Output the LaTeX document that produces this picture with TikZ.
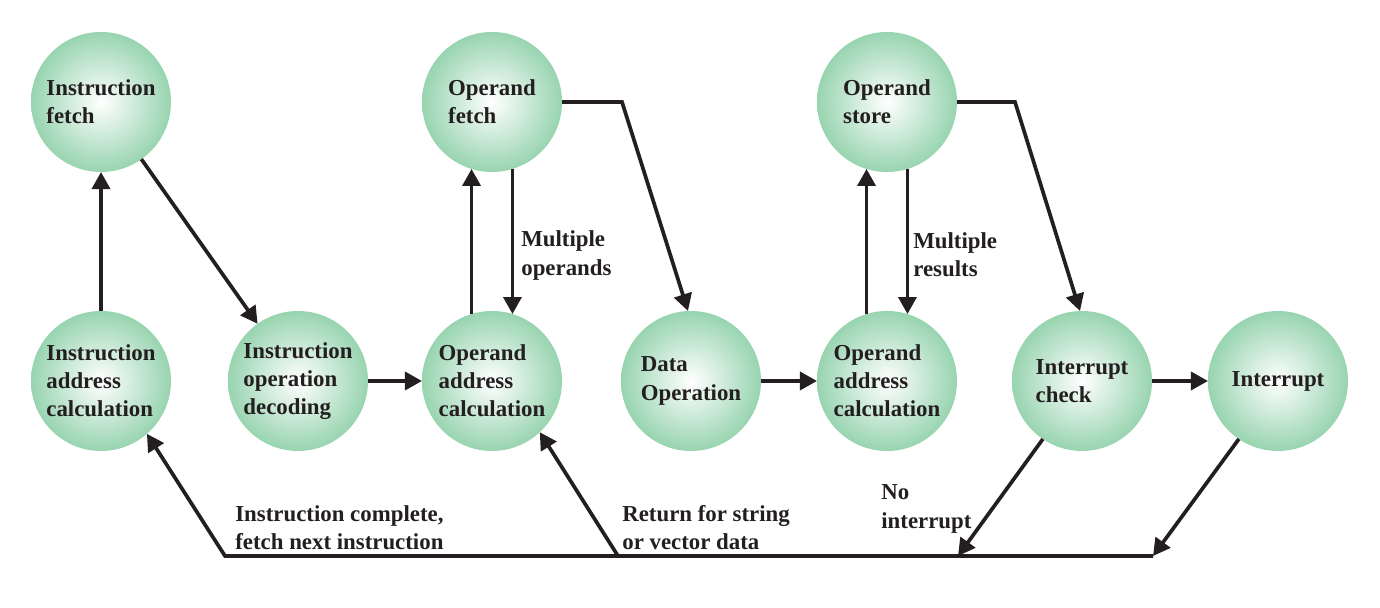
\documentclass[tikz,border=0pt]{standalone}
\usepackage{fontspec}
\setmainfont{Liberation Serif}
\usepackage{tikz}
\usetikzlibrary{arrows.meta}
\usepackage{xcolor}
\definecolor{bubgreen}{RGB}{152,212,176}
\definecolor{inktext}{RGB}{35,31,32}

\tikzset{
    state/.style={shape=circle,draw=none,minimum size=2.8cm,inner sep=0pt,outer sep=0pt,
        shading=radial,inner color=white,outer color=bubgreen,
        align=left,font=\fontsize{13}{16}\selectfont\bfseries,text=inktext},
    lbl/.style={align=left,inner sep=0pt,anchor=west,
        font=\fontsize{13}{16}\selectfont\bfseries,text=inktext},
    arr/.style={line width=2.1pt,draw=inktext,-{Triangle[length=9.7pt,width=10.2pt]}}
}

\begin{document}
\begin{tikzpicture}
        \useasboundingbox (0,0) rectangle (27.6,12.16);

        \node[state] (ifetch) at (2.02,10.12) {Instruction\\fetch};
        \node[state] (opfetch) at (9.84,10.12) {Operand\\fetch};
        \node[state] (opstore) at (17.74,10.12) {Operand\\store};

        \node[state] (iaddr) at (2.02,4.54) {Instruction\\address\\calculation};
        \node[state] (idecode) at (5.96,4.54) {Instruction\\operation\\decoding};
        \node[state] (oaddrA) at (9.84,4.54) {Operand\\address\\calculation};
        \node[state] (dataop) at (13.82,4.54) {Data\\Operation};
        \node[state] (oaddrB) at (17.74,4.54) {Operand\\address\\calculation};
        \node[state] (intchk) at (21.64,4.54) {Interrupt\\check};
        \node[state] (intr) at (25.56,4.54) {Interrupt};

        \coordinate (busR) at (23.06,1.04);
        \coordinate (busL) at (4.50,1.04);
        \coordinate (busRet) at (12.36,1.04);
        \coordinate (busNoint) at (19.16,1.04);

        \draw[arr] (iaddr) -- (ifetch);
        \draw[arr] (ifetch) -- (idecode);
        \draw[arr] (idecode) -- (oaddrA);
        \draw[arr] (oaddrA.107) -- (opfetch.253);
        \draw[arr] (opfetch.287) -- (oaddrA.73);
        \draw[arr] (opfetch.east) -- ++(1.2,0) -- ([xshift=-0.06cm]dataop.north);
        \draw[arr] (dataop) -- (oaddrB);
        \draw[arr] (oaddrB.107) -- (opstore.253);
        \draw[arr] (opstore.287) -- (oaddrB.73);
        \draw[arr] (opstore.east) -- ++(1.16,0) -- ([xshift=-0.04cm]intchk.north);
        \draw[arr] (intchk) -- (intr);

        \draw[arr] (intchk.236) -- (busNoint);
        \draw[arr] (intr.236) -- (busR);
        \draw[arr] (busR) -- (busL) -- (iaddr.-49);
        \draw[arr] (busRet) -- (oaddrA.-47);

        \node[lbl] (multops) at (10.42,7.05) {Multiple\\operands};
        \node[lbl] (multres) at (18.26,7.07) {Multiple\\results};
        \node[lbl] (nointr) at (17.62,1.98) {No\\interrupt};
        \node[lbl] (icomplete) at (4.70,1.61) {Instruction complete,\\fetch next instruction};
        \node[lbl] (retstr) at (12.44,1.61) {Return for string\\or vector data};
    \end{tikzpicture}
\end{document}
